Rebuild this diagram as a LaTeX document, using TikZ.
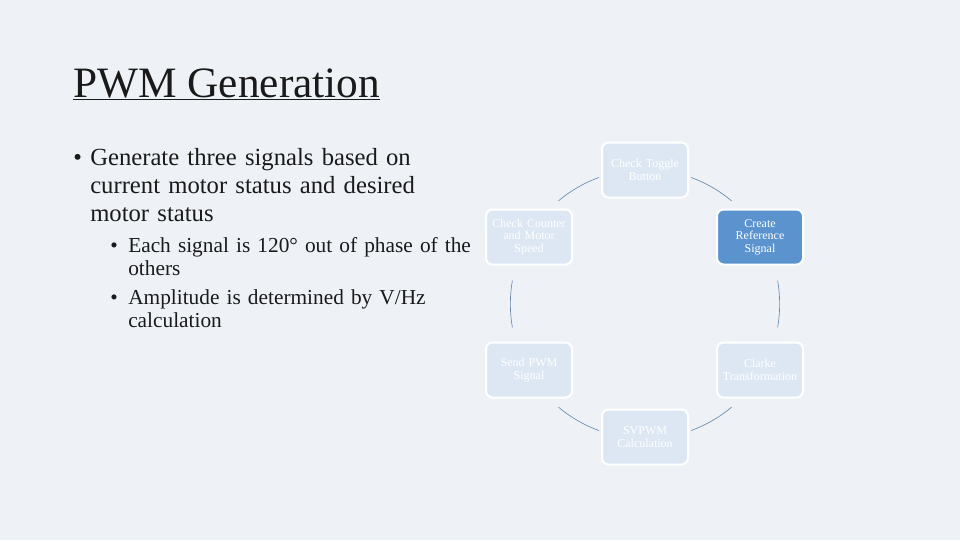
\documentclass[tikz,border=0pt]{standalone}
\usepackage{fontspec}
\setmainfont{Liberation Serif}
\definecolor{bg}{HTML}{EEF2F7}
\definecolor{boxf}{HTML}{DDE7F3}
\definecolor{hi}{HTML}{5B93CF}
\definecolor{arcc}{HTML}{6A8BB0}
\definecolor{txt}{HTML}{1A1A1A}
\begin{document}
\begin{tikzpicture}[x=0.75pt,y=-0.75pt,
  stepbox/.style={draw=white,line width=1.5pt,fill=boxf,rounded corners=5pt,minimum width=86*0.75pt,minimum height=55*0.75pt,inner sep=1pt,align=center,text=white,font=\fontsize{9}{9.5}\selectfont,text width=62pt},
  conn/.style={draw=arcc,line width=0.5pt}]
\fill[bg] (0,0) rectangle (960,540);
\useasboundingbox (0,0) rectangle (960,540);
\node[anchor=base west,text=txt,font=\fontsize{32.5}{34}\selectfont,inner sep=0pt] (title) at (73,97) {\underline{PWM Generation}};
\node[anchor=north west,text=txt,inner sep=0pt,text width=380pt,align=left,font=\fontsize{18.5}{21}\selectfont] (b1) at (73,148) {%
\makebox[12.75pt][l]{•}Generate three signals based on\\
\hspace*{12.75pt}current motor status and desired\\
\hspace*{12.75pt}motor status};
\node[anchor=north west,text=txt,inner sep=0pt,text width=360pt,align=left,font=\fontsize{16}{17.5}\selectfont] (b2) at (110,237) {%
\makebox[13.5pt][l]{•}Each signal is 120° out of phase of the\\
\hspace*{13.5pt}others\\[4pt]
\makebox[13.5pt][l]{•}Amplitude is determined by V/Hz\\
\hspace*{13.5pt}calculation};
\coordinate (c) at (645,304);
\node[stepbox] (t) at (645,170) {Check Toggle\\Button};
\node[stepbox,fill=hi] (r) at (760,237) {Create\\Reference\\Signal};
\node[stepbox] (cl) at (760,370) {Clarke\\Transformation};
\node[stepbox] (sv) at (645,437) {SVPWM\\Calculation};
\node[stepbox] (sp) at (529,370) {Send PWM\\Signal};
\node[stepbox] (cc) at (529,237) {Check Counter\\and Motor\\Speed};
\foreach \a in {60,0,-60,-120,180,120}{
  \draw[conn] ([shift={(c)}]\a+10:101pt) arc[start angle=\a+10,end angle=\a-10,radius=101pt];
}
\end{tikzpicture}
\end{document}
